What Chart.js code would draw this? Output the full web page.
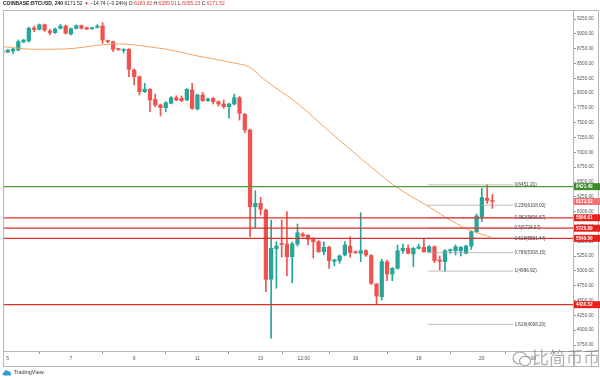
<!DOCTYPE html>
<html><head><meta charset="utf-8">
<script src="https://cdn.jsdelivr.net/npm/chart.js@4.4.1/dist/chart.umd.min.js"></script>
<style>
html,body{margin:0;padding:0;background:#fff;width:600px;height:377px;overflow:hidden;font-family:"Liberation Sans",Arial,sans-serif}
#wrap{position:absolute;left:0;top:0;width:600px;height:377px}
#hdr{position:absolute;left:3px;top:0px;font-size:5px;line-height:7px;color:#222;white-space:nowrap}
#hdr .b{font-weight:bold}
#hdr .r{color:#e53935}
#tv{position:absolute;left:2px;top:369px;font-size:5.5px;line-height:7px;color:#333;white-space:nowrap}
#tv svg{vertical-align:middle}
#wm{position:absolute;left:512px;top:347px;white-space:nowrap;font-family:"Noto Sans CJK SC",sans-serif;font-size:17px;line-height:20px;color:rgba(110,110,110,0.55)}
#wm svg{vertical-align:middle}
</style></head><body>
<div id="wrap"><canvas id="c" width="600" height="377"></canvas></div>
<div id="hdr"><span class="b">COINBASE:BTCUSD, 240</span> 6171.52 <span class="r">▼</span> −14.74 (−0.24%) O:<span class="r">6183.82</span> H:<span class="r">6289.91</span> L:<span class="r">6055.23</span> C:<span class="r">6171.52</span></div>
<div id="tv"><svg width="10" height="7" viewBox="0 0 20 14"><path d="M4 13 C0 13 0 7 4 7 C4 2 11 1 12 5 C15 3 19 6 17 9 C20 10 19 13 16 13 Z" fill="#3a9ad9"/></svg> TradingView</div>
<div id="wm"><svg width="20" height="18" viewBox="0 0 20 18"><ellipse cx="8" cy="8" rx="7" ry="6" fill="none" stroke="rgba(110,110,110,0.6)" stroke-width="1.2"/><ellipse cx="13" cy="11" rx="5.5" ry="4.5" fill="#fff" stroke="rgba(110,110,110,0.6)" stroke-width="1.2"/></svg>比简币币</div>
<script>
// ---- data (4h candles, index 0 = first visible candle) ----
const opens  = [8710,8693,8710,8727,8862,8879,9098,9076,9154,9047,9019,9093,9132,8997,9093,9137,9103,9087,9110,9132,
                8879,8867,8744,8719,8739,8390,8277,8024,8064,7895,7799,7754,7828,7922,7912,7884,8052,7732,7968,7872,
                7912,7855,7816,7771,7816,7922,7642,7378,6083,6141,6028,4859,5375,5463,5454,5240,5454,5623,5601,5550,
                5493,5324,5398,5162,5173,5269,5420,5324,5297,5341,5260,4780,4565,5151,4948,5044,5341,5382,5286,5382,
                5398,5324,5409,5184,5156,5341,5341,5341,5297,5420,5662,5910,6225,6183.82];
const highs  = [8727,8735,8756,8896,8905,9115,9132,9166,9166,9076,9098,9161,9149,9098,9149,9149,9115,9115,9154,9188,
                8896,8879,8750,8752,8752,8407,8288,8165,8078,7985,7816,7858,7942,7956,7951,8078,8165,7985,8013,7917,
                7926,7872,7884,7833,7985,7942,7656,7394,6353,6242,6045,5859,5493,5859,6000,5488,5792,5648,5614,5560,
                5513,5493,5420,5201,5269,5493,5577,5335,5983,5361,5277,4788,5196,5184,5058,5437,5454,5437,5395,5454,
                5550,5429,5420,5252,5361,5370,5437,5412,5437,5682,5961,6394,6451.2,6289.91];
const lows   = [8660,8680,8671,8710,8850,8862,9036,9064,9041,8980,9005,9081,8997,8980,9081,9081,9070,9075,9098,8840,
                8846,8698,8720,8677,8277,8137,7968,8010,7686,7771,7614,7686,7816,7872,7855,7872,7723,7715,7858,7858,
                7816,7782,7744,7575,7799,7546,7332,5577,5719,5943,4650,3864,4707,5235,4914,4801,5420,5572,5437,5218,
                5311,5269,5044,5083,5129,5252,5230,5295,5156,5243,4771,4435,4510,4835,4835,5032,5297,5286,5071,5370,
                5311,5311,5139,5016,4997,5297,5269,5252,5286,5365,5640,5830,6137,6055.23];
const closes = [8682,8727,8744,8867,8896,9093,9073,9154,9064,9019,9081,9132,9009,9087,9137,9093,9081,9103,9132,8896,
                8870,8739,8735,8736,8401,8277,8024,8064,7884,7799,7754,7838,7922,7884,7872,8064,7744,7968,7872,7900,
                7855,7816,7771,7816,7922,7659,7378,6083,6141,6040,4859,5382,5420,5446,5240,5454,5645,5590,5534,5493,
                5324,5398,5173,5184,5252,5437,5308,5308,5341,5269,4791,4577,5156,4948,5044,5341,5382,5297,5382,5409,
                5324,5409,5173,5162,5341,5353,5409,5398,5420,5662,5927,6239,6190,6171.52];

// moving average read at sample candle positions
const maIdx    = [0,6,12,18.5,21.3,24.8,28,31.2,37.5,43.7,47,49.8,55.9,62.1,68.4,74.5,80.8,85.5,88.7,92.9];
const maValues = [8786,8739,8745,8811,8830,8816,8778,8739,8617,8513,8432,8221,7833,7349,6871,6433,6090,5830,5690,5564];

// horizontal levels
const greenLevels = [6421.49];
const redLevels   = [5896.61,5720.89,5549.50,4430.52];
const lastPrice   = 6171.52;

// fibonacci retracement
const fibRatios = ['0','0.236','0.382','0.5','0.618','0.786','1','1.618'];
const fibPrices = [6451.20,6108.00,5896.67,5724.07,5551.44,5308.15,4996.92,4098.20];
const fibFromIdx = 80.7, fibToIdx = 96.9;

// axes
const yTickValues = [3750,4000,4250,4500,4750,5000,5250,5500,5750,6000,6250,6500,6750,7000,7250,7500,7750,8000,8250,8500,8750,9000,9250];
const xTickPos    = [1,13,25,37,49,57.2,67,79,91,100.1];
const xTickLabels = ['5','7','9','11','13','12:00','16','18','20','12:00'];

const X_MIN = 0.1, X_MAX = 108.3, Y_MIN = 3649, Y_MAX = 9402;

const UP = '#26a69a', DN = '#ef5350';
const cols = closes.map((c,i)=> c>=opens[i] ? UP : DN);

const datasets = [
  {type:'bar', label:'wick', data: lows.map((l,i)=>({x:i,y:[l,highs[i]]})), backgroundColor: cols, barThickness:1, grouped:false, order:6},
  {type:'bar', label:'body', data: opens.map((o,i)=>({x:i,y:[o,closes[i]]})), backgroundColor: cols, barThickness:3.6, minBarLength:1, grouped:false, order:5},
  {type:'line', label:'MA', data: maIdx.map((x,i)=>({x, y:maValues[i]})), borderColor:'#f5a25d', borderWidth:1, pointRadius:0, tension:0.4, cubicInterpolationMode:'monotone', order:1}
];
fibPrices.forEach(p=>datasets.push({type:'line', data:[{x:fibFromIdx,y:p},{x:fibToIdx,y:p}], borderColor:'#a0a0a0', borderWidth:0.7, pointRadius:0, order:3}));
greenLevels.forEach(p=>datasets.push({type:'line', data:[{x:X_MIN,y:p},{x:X_MAX,y:p}], borderColor:'#4e9a32', borderWidth:1.3, pointRadius:0, order:0}));
redLevels.forEach(p=>datasets.push({type:'line', data:[{x:X_MIN,y:p},{x:X_MAX,y:p}], borderColor:'#e0302c', borderWidth:1.3, pointRadius:0, order:0}));

const overlay = {
  id:'overlay',
  afterDraw(chart){
    const {ctx, chartArea:a, scales:{x, y}} = chart;
    ctx.save();
    // frame and separators
    ctx.strokeStyle = '#b8b8b8'; ctx.lineWidth = 1;
    ctx.strokeRect(3.5, 10.5, 595, 356);
    ctx.beginPath(); ctx.moveTo(a.right+0.5, 10); ctx.lineTo(a.right+0.5, 366); ctx.stroke();
    ctx.beginPath(); ctx.moveTo(3, a.bottom+0.5); ctx.lineTo(599, a.bottom+0.5); ctx.stroke();
    // fib labels
    ctx.font = '4.6px "Liberation Sans", Arial, sans-serif';
    ctx.fillStyle = '#444'; ctx.textBaseline = 'middle'; ctx.textAlign = 'left';
    fibPrices.forEach((p,i)=>{
      ctx.fillText(fibRatios[i]+'('+p.toFixed(2)+')', x.getPixelForValue(fibToIdx)+1.5, y.getPixelForValue(p));
    });
    // price tags
    const tag = (p, bg) => {
      const py = y.getPixelForValue(p);
      ctx.fillStyle = bg; ctx.fillRect(a.right+1, py-3.5, 26, 7);
      ctx.fillStyle = '#fff'; ctx.font = 'bold 4.6px "Liberation Sans", Arial, sans-serif';
      ctx.fillText(p.toFixed(2), a.right+3, py+0.2);
    };
    greenLevels.forEach(p=>tag(p,'#3d8a2a'));
    tag(lastPrice,'#f07472');
    redLevels.forEach(p=>tag(p,'#e8201c'));
    ctx.restore();
  }
};

new Chart(document.getElementById('c'), {
  type:'bar',
  data:{datasets},
  options:{
    responsive:false, animation:false, devicePixelRatio:1,
    layout:{padding:{left:3, top:10, right:0, bottom:11}},
    plugins:{legend:{display:false}, tooltip:{enabled:false}},
    scales:{
      x:{type:'linear', min:X_MIN, max:X_MAX, offset:false,
         afterBuildTicks:s=>{s.ticks = xTickPos.map(v=>({value:v}));},
         afterFit:s=>{s.height = 15;},
         ticks:{autoSkip:false, maxRotation:0, padding:1.5, color:'#555', font:{size:5, family:'"Liberation Sans", Arial'}, callback:(v,i)=>xTickLabels[i]},
         grid:{drawOnChartArea:false, drawTicks:true, tickLength:3, tickColor:'#999'},
         border:{display:false}},
      y:{type:'linear', position:'right', min:Y_MIN, max:Y_MAX,
         afterBuildTicks:s=>{s.ticks = yTickValues.map(v=>({value:v}));},
         afterFit:s=>{s.width = 27;},
         ticks:{autoSkip:false, padding:1, color:'#555', font:{size:4.6, family:'"Liberation Sans", Arial'}, callback:v=>Number(v).toFixed(2)},
         grid:{drawOnChartArea:false, drawTicks:true, tickLength:3, tickColor:'#999'},
         border:{display:false}}
    }
  },
  plugins:[overlay]
});
</script>
</body></html>
